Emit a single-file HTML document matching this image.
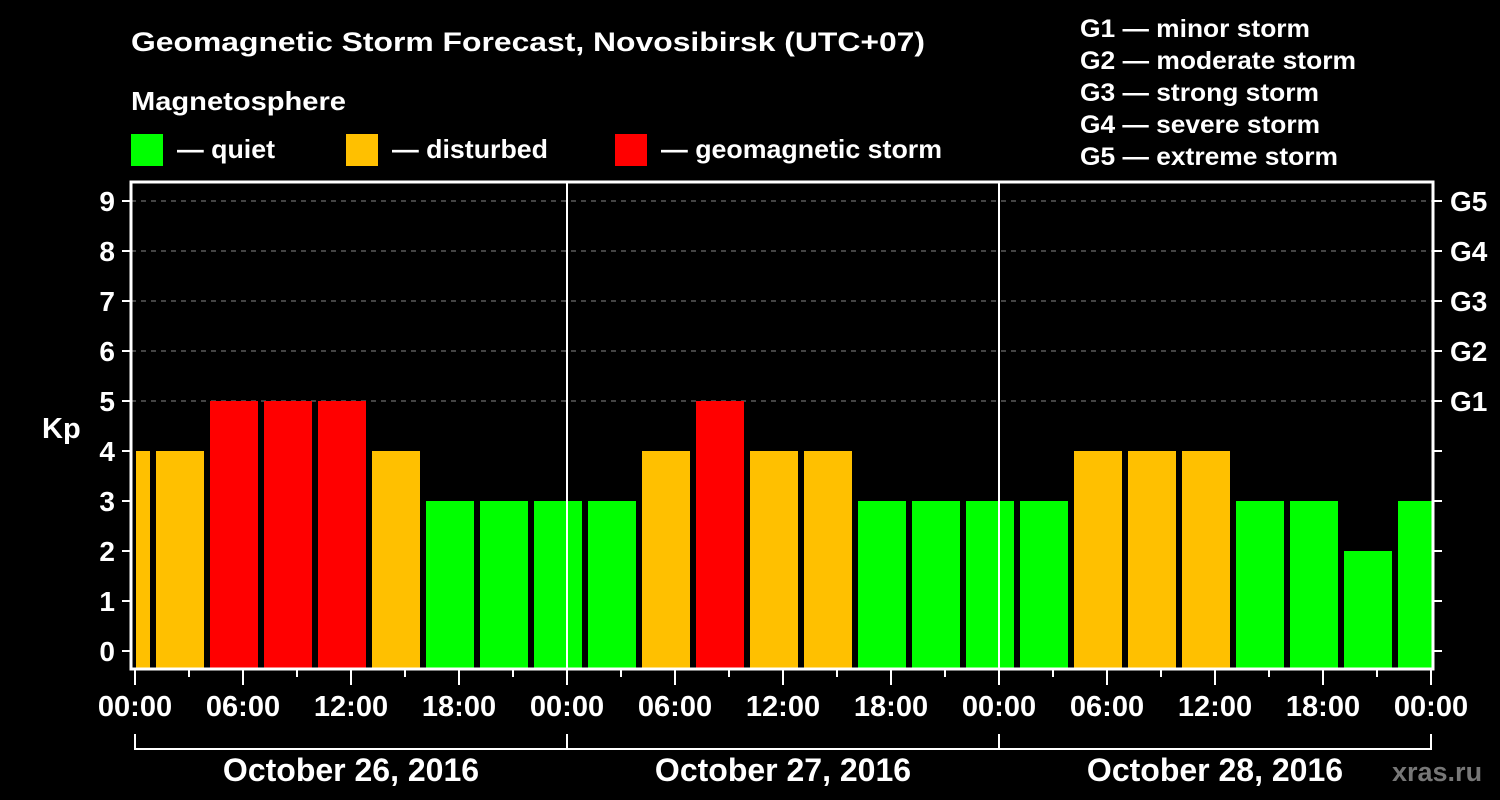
<!DOCTYPE html>
<html><head><meta charset="utf-8"><style>
body{margin:0;background:#000;width:1500px;height:800px;overflow:hidden}
svg{display:block;font-family:"Liberation Sans",Arial,sans-serif;font-weight:bold}
</style></head><body>
<svg id="chart" width="1500" height="800" viewBox="0 0 1500 800">
<rect width="1500" height="800" fill="#000"/>
<text x="131" y="51" fill="#fff" font-size="27" textLength="794" lengthAdjust="spacingAndGlyphs">Geomagnetic Storm Forecast, Novosibirsk (UTC+07)</text>
<text x="131" y="110" fill="#fff" font-size="26" textLength="215" lengthAdjust="spacingAndGlyphs">Magnetosphere</text>
<g><rect x="131" y="134" width="32" height="32" fill="#00ff00"/><text x="177" y="158" fill="#fff" font-size="26" textLength="98" lengthAdjust="spacingAndGlyphs">— quiet</text></g>
<g><rect x="346" y="134" width="32" height="32" fill="#ffc000"/><text x="392" y="158" fill="#fff" font-size="26" textLength="156" lengthAdjust="spacingAndGlyphs">— disturbed</text></g>
<g><rect x="615" y="134" width="32" height="32" fill="#ff0000"/><text x="661" y="158" fill="#fff" font-size="26" textLength="281" lengthAdjust="spacingAndGlyphs">— geomagnetic storm</text></g>
<g fill="#fff" font-size="25" lengthAdjust="spacingAndGlyphs">
<text x="1080" y="37" textLength="230" lengthAdjust="spacingAndGlyphs">G1 — minor storm</text>
<text x="1080" y="69" textLength="276" lengthAdjust="spacingAndGlyphs">G2 — moderate storm</text>
<text x="1080" y="101" textLength="239" lengthAdjust="spacingAndGlyphs">G3 — strong storm</text>
<text x="1080" y="133" textLength="240" lengthAdjust="spacingAndGlyphs">G4 — severe storm</text>
<text x="1080" y="165" textLength="258" lengthAdjust="spacingAndGlyphs">G5 — extreme storm</text>
</g>
<text x="42" y="438" fill="#fff" font-size="29">Kp</text>
<text x="1392" y="781" fill="#777" font-size="27">xras.ru</text>
<g id="grid"></g><g id="bars"></g><g id="axes"></g>
</svg>
<script>
const kpValues=[4,4,5,5,5,4,3,3,3,3,4,5,4,4,3,3,3,3,4,4,4,3,3,2,3];
const yTicks=[0,1,2,3,4,5,6,7,8,9];
const gLabels=["G1","G2","G3","G4","G5"];
const hourLabels=["00:00","06:00","12:00","18:00","00:00","06:00","12:00","18:00","00:00","06:00","12:00","18:00","00:00"];
const dateLabels=["October 26, 2016","October 27, 2016","October 28, 2016"];
const NS="http://www.w3.org/2000/svg";
const L=131,R=1433,T=182,B=669,X0=135,PXH=18;
const y=v=>651-v*50;
const x=h=>X0+h*PXH;
function mk(p,tag,a){const e=document.createElementNS(NS,tag);for(const k in a)e.setAttribute(k,a[k]);p.appendChild(e);return e;}
const grid=document.getElementById('grid'),bars=document.getElementById('bars'),axes=document.getElementById('axes');
for(let v=5;v<=9;v++){const l=mk(grid,'line',{x1:L,x2:R,y1:y(v),y2:y(v),stroke:'#888','stroke-dasharray':'5,5','stroke-width':1});

}
const col=v=>v>=5?'#ff0000':v>=4?'#ffc000':'#00ff00';
kpValues.forEach((v,i)=>{
 let s=x(-2+3*i-1/6)+6, e=s+48;
 s=Math.max(s,X0+1); e=Math.min(e,R-1);
 const r=mk(bars,'rect',{x:s,y:y(v),width:e-s,height:B-y(v),fill:col(v)});
 
 
});
mk(axes,'rect',{x:L,y:T,width:R-L,height:B-T,fill:'none',stroke:'#fff','stroke-width':3});
[24,48].forEach(h=>mk(axes,'line',{x1:x(h),x2:x(h),y1:T,y2:B,stroke:'#fff','stroke-width':2}));
yTicks.forEach(v=>{
 mk(axes,'line',{x1:122,x2:L,y1:y(v),y2:y(v),stroke:'#fff','stroke-width':2});
 mk(axes,'line',{x1:R,x2:1442,y1:y(v),y2:y(v),stroke:'#fff','stroke-width':2});
 const t=mk(axes,'text',{x:115,y:y(v)+10,fill:'#fff','font-size':28,'text-anchor':'end'});t.textContent=v;
 
 
});
gLabels.forEach((g,i)=>{const t=mk(axes,'text',{x:1450,y:y(5+i)+10,fill:'#fff','font-size':28});t.textContent=g;
 
 });
for(let h=0;h<=72;h+=3){mk(axes,'line',{x1:x(h),x2:x(h),y1:B,y2:h%6?677:685,stroke:'#fff','stroke-width':2});}
hourLabels.forEach((s,i)=>{const t=mk(axes,'text',{x:x(i*6),y:716,fill:'#fff','font-size':29,'text-anchor':'middle'});t.textContent=s;
 
 });
mk(axes,'line',{x1:x(0),x2:x(72),y1:749,y2:749,stroke:'#fff','stroke-width':2});
[0,24,48,72].forEach(h=>mk(axes,'line',{x1:x(h),x2:x(h),y1:734,y2:750,stroke:'#fff','stroke-width':2}));
dateLabels.forEach((s,i)=>{const t=mk(axes,'text',{x:x(i*24+12),y:781,fill:'#fff','font-size':32,'text-anchor':'middle'});t.textContent=s;
 
 });
</script>
</body></html>
